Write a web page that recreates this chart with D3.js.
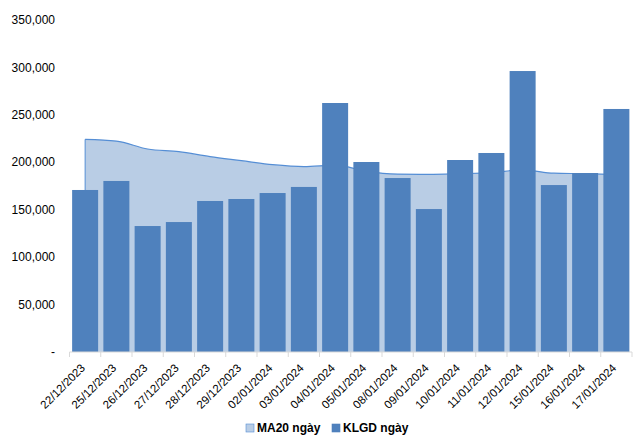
<!DOCTYPE html>
<html><head><meta charset="utf-8">
<script src="https://cdn.jsdelivr.net/npm/d3@7"></script>
<style>body{margin:0;background:#fff}svg{display:block}text{font-family:Arial,"Liberation Sans",sans-serif}</style>
</head><body>
<svg id="c" width="640" height="442"></svg>
<script>
const categories = ["22/12/2023","25/12/2023","26/12/2023","27/12/2023","28/12/2023","29/12/2023","02/01/2024","03/01/2024","04/01/2024","05/01/2024","08/01/2024","09/01/2024","10/01/2024","11/01/2024","12/01/2024","15/01/2024","16/01/2024","17/01/2024"];
const klgd = [170800,180300,132800,137000,159200,161300,167600,174000,262500,200300,183400,150700,202400,209800,296200,176000,188700,256200];
const ma20 = [224200,222400,214000,211200,205900,201700,197500,195400,197000,190500,187600,187300,188000,189000,192000,188500,188000,187000];
const yTicks = [0,50000,100000,150000,200000,250000,300000,350000];

const svg = d3.select("#c");
const xb = d3.scaleBand().domain(categories).range([69.5,632]);
const y = d3.scaleLinear().domain([0,350000]).range([352,20]);
const cx = d => xb(d)+xb.bandwidth()/2;

// area
const area = d3.area().x((d,i)=>cx(categories[i])).y0(y(0)).y1(d=>y(d)).curve(d3.curveMonotoneX);
svg.append("path").datum(ma20).attr("d",area).attr("fill","#B9CDE5").attr("stroke","none");
const line = d3.line().x((d,i)=>cx(categories[i])).y(d=>y(d)).curve(d3.curveMonotoneX);
svg.append("path").datum(ma20).attr("d",line).attr("fill","none").attr("stroke","#558ED5").attr("stroke-width",1.2);
svg.append("line").attr("x1",cx(categories[0])).attr("x2",cx(categories[0])).attr("y1",y(ma20[0])).attr("y2",y(0)).attr("stroke","#558ED5").attr("stroke-width",1);

// bars
const bw = 26;
svg.selectAll("rect.bar").data(klgd).join("rect").attr("class","bar")
  .attr("x",(d,i)=>cx(categories[i])-bw/2).attr("width",bw)
  .attr("y",d=>y(d)).attr("height",d=>y(0)-y(d)).attr("fill","#4F81BD");

// x axis
const gx = svg.append("g").attr("transform","translate(0,352)");
gx.append("line").attr("x1",69.5).attr("x2",632).attr("stroke","#D9D9D9").attr("stroke-width",1.2);
const bounds = categories.map(c=>xb(c)).concat([632]);
gx.selectAll("line.t").data(bounds).join("line").attr("class","t")
  .attr("x1",d=>d).attr("x2",d=>d).attr("y1",0).attr("y2",5).attr("stroke","#D9D9D9");
gx.selectAll("text").data(categories).join("text")
  .attr("transform",d=>`translate(${cx(d)-5},11) rotate(-45)`)
  .attr("text-anchor","end").attr("dy","0.7em").attr("font-size",11.5).attr("fill","#000").text(d=>d);

// y axis labels
svg.selectAll("text.yl").data(yTicks).join("text").attr("class","yl")
  .attr("x",55).attr("y",d=>y(d)).attr("dy","0.35em").attr("text-anchor","end")
  .attr("font-size",12).attr("fill","#000").text(d=>d===0?"-":d3.format(",")(d));

// legend
const leg = [{t:"MA20 ngày",c:"#B9CDE5",s:"#558ED5",x:246},{t:"KLGD ngày",c:"#4F81BD",s:"#4F81BD",x:332}];
leg.forEach(l=>{
  svg.append("rect").attr("x",l.x).attr("y",424).attr("width",8).attr("height",8).attr("fill",l.c).attr("stroke",l.s).attr("stroke-width",0.6);
  svg.append("text").attr("x",l.x+11).attr("y",428).attr("dy","0.36em").attr("font-size",12).attr("font-weight","bold").attr("fill","#000").text(l.t);
});
</script>
</body></html>
